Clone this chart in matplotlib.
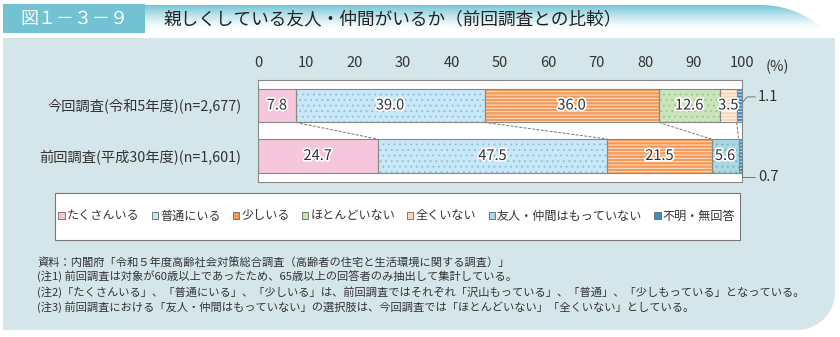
import numpy as np
import matplotlib.pyplot as plt
import matplotlib.patheffects as pe
from matplotlib.patches import Rectangle, Patch, PathPatch
from matplotlib.path import Path

plt.rcParams['font.family'] = ['Noto Sans CJK JP', 'DejaVu Sans']
plt.rcParams['hatch.linewidth'] = 0.7

# survey rows and answer categories
groups = ['今回調査(令和5年度)(n=2,677)', '前回調査(平成30年度)(n=1,601)']
cats = ['たくさんいる', '普通にいる', '少しいる', 'ほとんどいない', '全くいない',
        '友人・仲間はもっていない', '不明・無回答']
# (%) per category, None = not asked in that survey
now_vals = [7.8, 39.0, 36.0, 12.6, 3.5, None, 1.1]
prev_vals = [24.7, 47.5, 21.5, None, None, 5.6, 0.7]
xticks = [0, 10, 20, 30, 40, 50, 60, 70, 80, 90, 100]

colors = ['#f6c7dc', '#c8e8f7', '#f39a58', '#c9e5b9', '#fbd5b8', '#a9d8e2', '#3a8dcb']
hatches = [None, '...', '-----', '...', '-----', '...', '-----']
hcolors = [None, '#93bfd9', '#fde3cf', '#9cc896', '#ffffff', '#7db5c5', '#dceefa']

title_no = '図１－３－９'
title = '親しくしている友人・仲間がいるか（前回調査との比較）'
notes = [
    '資料：内閣府「令和５年度高齢社会対策総合調査（高齢者の住宅と生活環境に関する調査）」',
    '(注1) 前回調査は対象が60歳以上であったため、65歳以上の回答者のみ抽出して集計している。',
    '(注2)「たくさんいる」、「普通にいる」、「少しいる」は、前回調査ではそれぞれ「沢山もっている」、「普通」、「少しもっている」となっている。',
    '(注3) 前回調査における「友人・仲間はもっていない」の選択肢は、今回調査では「ほとんどいない」「全くいない」としている。',
]

W, H = 840, 337
fig = plt.figure(figsize=(W / 100, H / 100), dpi=100)
fig.patch.set_facecolor('white')

# background decorations in pixel coordinates
bg = fig.add_axes([0, 0, 1, 1])
bg.set_xlim(0, W)
bg.set_ylim(H, 0)
bg.axis('off')

# panel with rounded lower-right corner
r = 38
x0, x1, y0, y1 = 3, 835, 38, 330
t = np.linspace(0, np.pi / 2, 20)
corner = np.column_stack([x1 - r + r * np.cos(t), y1 - r + r * np.sin(t)])
pts = np.vstack([[x0, y0], [x1, y0], corner, [x0, y1], [x0, y0]])
bg.add_patch(PathPatch(Path(pts), facecolor='#d5e6eb', edgecolor='none', zorder=0))

# title bar: gradient from teal at the top to white
grad = np.linspace(0, 1, 64)[:, None]
teal = np.array([0.45, 0.77, 0.84])
k = (1 - grad[..., None]) ** 1.4
img = teal[None, None, :] * k + np.ones(3) * (1 - k)
img = np.repeat(img, 2, axis=1)
im = bg.imshow(img, extent=[145, 835, 30, 5], aspect='auto', zorder=1)
rt = 60
t2 = np.linspace(np.pi / 2, 0, 20)
tb = np.column_stack([820 - rt + rt * np.cos(t2) * 1.3, 5 + rt - rt * np.sin(t2)])
tb = tb[tb[:, 1] <= 30]
clip_pts = np.vstack([[145, 5], tb, [835, 30], [145, 30], [145, 5]])
clip = PathPatch(Path(clip_pts), transform=bg.transData, facecolor='none', edgecolor='none')
bg.add_patch(clip)
im.set_clip_path(clip)
bg.add_patch(Rectangle((3, 4), 142, 29, facecolor='#72c2d3', edgecolor='none', zorder=2))
bg.text(74, 19, title_no, color='white', fontsize=13, ha='center', va='center', zorder=3)
bg.text(163, 19, title, color='#222222', fontsize=12.7, ha='left', va='center', zorder=3)

# legend box
bg.add_patch(Rectangle((55, 193), 685, 47, facecolor='white', edgecolor='#777777', lw=0.8, zorder=1))

# notes
for i, s in enumerate(notes):
    bg.text(37, 262 + i * 15, s, fontsize=8.1, color='#333333', ha='left', va='center')

# main bar chart
ax = fig.add_axes([258 / W, 1 - 182 / H, (742 - 258) / W, (182 - 80) / H])
ax.set_facecolor('white')
for s in ax.spines.values():
    s.set_color('#888888')
    s.set_linewidth(0.8)
ax.set_xlim(0, 100)
ax.set_ylim(1.515, -0.505)
bh = 0.67

rows = [now_vals, prev_vals]
for yi, vals in enumerate(rows):
    left = 0
    for ci, v in enumerate(vals):
        if v is None:
            continue
        ax.barh(yi, v, left=left, height=bh, color=colors[ci],
                hatch=hatches[ci], edgecolor=hcolors[ci] or colors[ci], lw=0, zorder=2)
        ax.barh(yi, v, left=left, height=bh, fill=False, edgecolor='#888888', lw=0.8, zorder=3)
        if v >= 3:
            ax.text(left + v / 2, yi, f'{v:.1f}', ha='center', va='center', fontsize=10.5,
                    color='#333333', zorder=4,
                    path_effects=[pe.withStroke(linewidth=2.5, foreground='white')])
        left += v

# dashed guide lines between matching boundaries
def cum(vals, n):
    return sum(v for v in vals[:n] if v is not None)

pairs = [(1, 1), (2, 2), (3, 3), (5, 6)]
for a, b in pairs:
    ax.plot([cum(now_vals, a), cum(prev_vals, b)], [0 + bh / 2, 1 - bh / 2],
            color='#777777', lw=0.7, ls=(0, (3, 1.5)), zorder=1)

# small values labelled outside
ax.annotate(f'{now_vals[-1]:.1f}', xy=(100, -0.05), xytext=(103.3, -0.17),
            textcoords='data', annotation_clip=False, fontsize=10.5, color='#333333',
            va='center', ha='left',
            arrowprops=dict(arrowstyle='-', color='#777777', lw=0.7, shrinkA=0, shrinkB=0,
                            connectionstyle='angle,angleA=0,angleB=50,rad=0'))
ax.annotate(f'{prev_vals[-1]:.1f}', xy=(100, 1.15), xytext=(103.3, 1.42),
            textcoords='data', annotation_clip=False, fontsize=10.5, color='#333333',
            va='center', ha='left',
            arrowprops=dict(arrowstyle='-', color='#777777', lw=0.7, shrinkA=0, shrinkB=0,
                            connectionstyle='angle,angleA=0,angleB=90,rad=0'))

ax.set_xticks(xticks)
ax.set_xticklabels([str(v) for v in xticks])
ax.xaxis.tick_top()
ax.tick_params(axis='x', length=0, pad=7, labelsize=10.5, labelcolor='#333333')
ax.set_yticks([0, 1])
ax.set_yticklabels(groups)
ax.tick_params(axis='y', length=0, pad=12, labelsize=10.3, labelcolor='#333333')
bg.text(766, 67, '(%)', fontsize=10.5, color='#333333', ha='left', va='center')

# legend
handles = [Patch(facecolor=colors[i], edgecolor='#666666', lw=0.6, label=cats[i])
           for i in range(len(cats))]
fig.legend(handles=handles, loc='center', bbox_to_anchor=(397 / W, 1 - 216 / H), ncol=7,
           frameon=False, fontsize=8.7, handlelength=0.5, handleheight=0.5,
           handletextpad=0.2, columnspacing=1.0, labelcolor='#333333')

fig.savefig('out.png', dpi=100, facecolor='white')
